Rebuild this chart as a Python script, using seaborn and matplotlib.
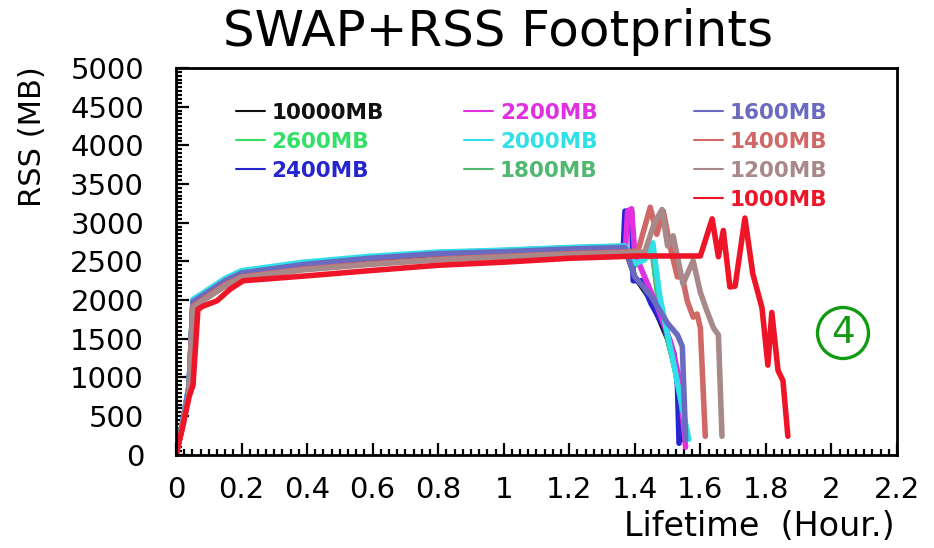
import numpy as np
import pandas as pd
import matplotlib
matplotlib.use("Agg")
import matplotlib.pyplot as plt
from matplotlib.lines import Line2D
from matplotlib.ticker import MultipleLocator, FuncFormatter
import seaborn as sns

# Memory limits (series names) and their colours
SERIES = ["10000MB", "2600MB", "2400MB", "2200MB", "2000MB",
          "1800MB", "1600MB", "1400MB", "1200MB", "1000MB"]
COLORS = ["#111111", "#33e066", "#2626d0", "#e030e0", "#30e0e8",
          "#50b870", "#6a6ac0", "#d06868", "#a88888", "#ee1528"]

# Lifetime (hours) and RSS (MB) samples for each memory limit
T_10000 = [0, 0.02, 0.04, 0.052, 0.1, 0.15, 0.2, 0.39, 0.59, 0.8, 1.0, 1.2, 1.37, 1.40, 1.45, 1.50, 1.53, 1.545]
V_10000 = [0, 400, 880, 1900, 2100, 2240, 2340, 2450, 2530, 2590, 2620, 2650, 2670, 2300, 2000, 1500, 1000, 200]

T_2600 = [0, 0.02, 0.04, 0.052, 0.1, 0.15, 0.2, 0.39, 0.59, 0.8, 1.0, 1.2, 1.37, 1.40, 1.44, 1.452, 1.47, 1.50, 1.53, 1.555]
V_2600 = [0, 410, 890, 1990, 2130, 2270, 2370, 2480, 2555, 2612, 2638, 2672, 2692, 2450, 2600, 2700, 2050, 1500, 1000, 200]

T_2400 = [0, 0.02, 0.04, 0.052, 0.1, 0.15, 0.2, 0.39, 0.59, 0.8, 1.0, 1.2, 1.365, 1.37, 1.39, 1.395, 1.42, 1.45, 1.49, 1.52, 1.53, 1.535]
V_2400 = [0, 400, 880, 1990, 2120, 2260, 2360, 2470, 2550, 2610, 2635, 2670, 2690, 3150, 3150, 2250, 2250, 1950, 1650, 1300, 900, 150]

T_2200 = [0, 0.02, 0.04, 0.052, 0.1, 0.15, 0.2, 0.39, 0.59, 0.8, 1.0, 1.2, 1.372, 1.378, 1.39, 1.40, 1.43, 1.47, 1.51, 1.535, 1.548, 1.555]
V_2200 = [0, 410, 890, 2000, 2130, 2270, 2370, 2480, 2555, 2612, 2640, 2675, 2695, 3150, 3180, 2600, 2300, 1900, 1450, 1000, 400, 100]

T_1800 = [0, 0.02, 0.04, 0.052, 0.1, 0.15, 0.2, 0.39, 0.59, 0.8, 1.0, 1.2, 1.37, 1.41, 1.44, 1.45, 1.47, 1.50, 1.52, 1.545, 1.56]
V_1800 = [0, 410, 880, 1990, 2120, 2260, 2360, 2470, 2548, 2605, 2630, 2665, 2685, 2500, 2560, 2720, 2100, 1560, 1160, 620, 220]

T_2000 = [0, 0.02, 0.04, 0.052, 0.1, 0.15, 0.2, 0.39, 0.59, 0.8, 1.0, 1.2, 1.37, 1.40, 1.43, 1.455, 1.475, 1.50, 1.52, 1.545, 1.565]
V_2000 = [0, 420, 900, 2010, 2140, 2280, 2380, 2490, 2565, 2620, 2645, 2680, 2700, 2470, 2520, 2740, 2080, 1550, 1150, 600, 200]

T_1600 = [0, 0.02, 0.04, 0.052, 0.1, 0.15, 0.2, 0.39, 0.59, 0.8, 1.0, 1.2, 1.37, 1.40, 1.45, 1.50, 1.53, 1.545, 1.555]
V_1600 = [0, 400, 870, 1980, 2110, 2250, 2350, 2460, 2540, 2600, 2625, 2660, 2680, 2300, 2050, 1700, 1550, 1400, 200]

T_1400 = [0, 0.02, 0.04, 0.052, 0.1, 0.15, 0.2, 0.39, 0.59, 0.8, 1.0, 1.2, 1.37, 1.41, 1.447, 1.467, 1.487, 1.507, 1.53, 1.545, 1.56, 1.578, 1.59, 1.60, 1.615]
V_1400 = [0, 380, 800, 1920, 2060, 2200, 2300, 2400, 2470, 2530, 2565, 2600, 2620, 2640, 3200, 2850, 3150, 2700, 2300, 2300, 1990, 1780, 1820, 1640, 240]

T_1200 = [0, 0.02, 0.04, 0.052, 0.1, 0.15, 0.2, 0.39, 0.59, 0.8, 1.0, 1.2, 1.37, 1.43, 1.46, 1.483, 1.50, 1.517, 1.547, 1.578, 1.60, 1.62, 1.64, 1.655, 1.666]
V_1200 = [0, 370, 800, 1900, 2040, 2180, 2290, 2390, 2460, 2520, 2555, 2590, 2610, 2620, 3000, 3170, 2700, 2830, 2210, 2510, 2100, 1860, 1640, 1550, 240]

T_1000 = [0, 0.02, 0.04, 0.052, 0.067, 0.082, 0.125, 0.165, 0.205, 0.39, 0.59, 0.8, 1.0, 1.2, 1.41, 1.60,
          1.636, 1.655, 1.67, 1.69, 1.706, 1.736, 1.76, 1.788, 1.806, 1.818, 1.837, 1.852, 1.867]
V_1000 = [0, 350, 750, 900, 1880, 1920, 1990, 2140, 2250, 2310, 2380, 2450, 2490, 2540, 2570, 2570,
          3050, 2560, 2900, 2170, 2180, 3060, 2340, 1900, 1160, 1840, 1090, 960, 240]

TIMES = {"10000MB": T_10000, "2600MB": T_2600, "2400MB": T_2400, "2200MB": T_2200,
         "2000MB": T_2000, "1800MB": T_1800, "1600MB": T_1600, "1400MB": T_1400,
         "1200MB": T_1200, "1000MB": T_1000}
VALUES = {"10000MB": V_10000, "2600MB": V_2600, "2400MB": V_2400, "2200MB": V_2200,
          "2000MB": V_2000, "1800MB": V_1800, "1600MB": V_1600, "1400MB": V_1400,
          "1200MB": V_1200, "1000MB": V_1000}

# Drawing order: cyan sits above the greens, red is drawn last
DRAW_ORDER = ["10000MB", "2600MB", "1800MB", "2400MB", "2200MB", "2000MB",
              "1600MB", "1400MB", "1200MB", "1000MB"]

X_TICKS = [0, 0.2, 0.4, 0.6, 0.8, 1, 1.2, 1.4, 1.6, 1.8, 2, 2.2]
Y_TICKS = [0, 500, 1000, 1500, 2000, 2500, 3000, 3500, 4000, 4500, 5000]

frames = []
for name in DRAW_ORDER:
    frames.append(pd.DataFrame({"Lifetime": TIMES[name], "RSS": VALUES[name], "Limit": name}))
df = pd.concat(frames, ignore_index=True)
palette = dict(zip(SERIES, COLORS))

sns.set_style("white")
plt.rcParams["font.family"] = ["DejaVu Sans"]
plt.rcParams["text.color"] = "black"
plt.rcParams["axes.labelcolor"] = "black"

fig = plt.figure(figsize=(9.34, 5.48), dpi=100)
ax = fig.add_axes([0.1884, 0.170, 0.772, 0.706])

sns.lineplot(data=df, x="Lifetime", y="RSS", hue="Limit", hue_order=DRAW_ORDER,
             palette=palette, sort=False, estimator=None, linewidth=4.0,
             legend=False, ax=ax)

ax.set_xlim(0, 2.2)
ax.set_ylim(0, 5000)
ax.set_xticks(X_TICKS)
ax.set_yticks(Y_TICKS)
ax.xaxis.set_minor_locator(MultipleLocator(0.025))
ax.yaxis.set_minor_locator(MultipleLocator(50))
ax.xaxis.set_major_formatter(FuncFormatter(lambda v, p: f"{v:g}"))
ax.tick_params(axis="both", which="both", bottom=True, left=True, top=False, right=False,
               direction="in", width=1.6, color="black")
ax.tick_params(axis="both", which="major", length=9, labelsize=21,
               labelcolor="black")
ax.tick_params(axis="x", which="major", pad=15)
ax.tick_params(axis="y", which="major", pad=23)
ax.tick_params(axis="both", which="minor", length=4.5)
for side in ["left", "right", "top", "bottom"]:
    ax.spines[side].set_visible(True)
    ax.spines[side].set_color("black")
    ax.spines[side].set_linewidth(2)

ax.set_xlabel("")
ax.set_ylabel("")
fig.text(0.958, 1 - 527 / 548, "Lifetime  (Hour.)", ha="right", va="center", fontsize=24)
fig.text(0.035, 1 - 137 / 548, "RSS (MB)", ha="center", va="center", rotation=90, fontsize=22)
fig.text(0.533, 1 - 32 / 548, "SWAP+RSS Footprints", ha="center", va="center", fontsize=36)

# Legend split into three columns (3, 3, 4 entries)
handles = [Line2D([], [], color=c, lw=1.5) for c in COLORS]
groups = [(0, 3, 0.083), (3, 6, 0.400), (6, 10, 0.718)]
for i, (a, b, x0) in enumerate(groups):
    leg = ax.legend(handles[a:b], SERIES[a:b], loc="upper left",
                    bbox_to_anchor=(x0, 0.910), frameon=False, ncol=1,
                    handlelength=1.35, handletextpad=0.3, labelspacing=0.42,
                    borderpad=0, borderaxespad=0,
                    prop={"weight": "bold", "size": 15.5})
    for txt, c in zip(leg.get_texts(), COLORS[a:b]):
        txt.set_color(c)
    if i < 2:
        ax.add_artist(leg)

# Circled marker label
fig.text(843 / 934, 1 - 333 / 548, "4", ha="center", va="center", fontsize=27,
         color="#129a12",
         bbox=dict(boxstyle="circle,pad=0.2", fc="none", ec="#129a12", lw=2.4))

fig.savefig("out.png", dpi=100)
